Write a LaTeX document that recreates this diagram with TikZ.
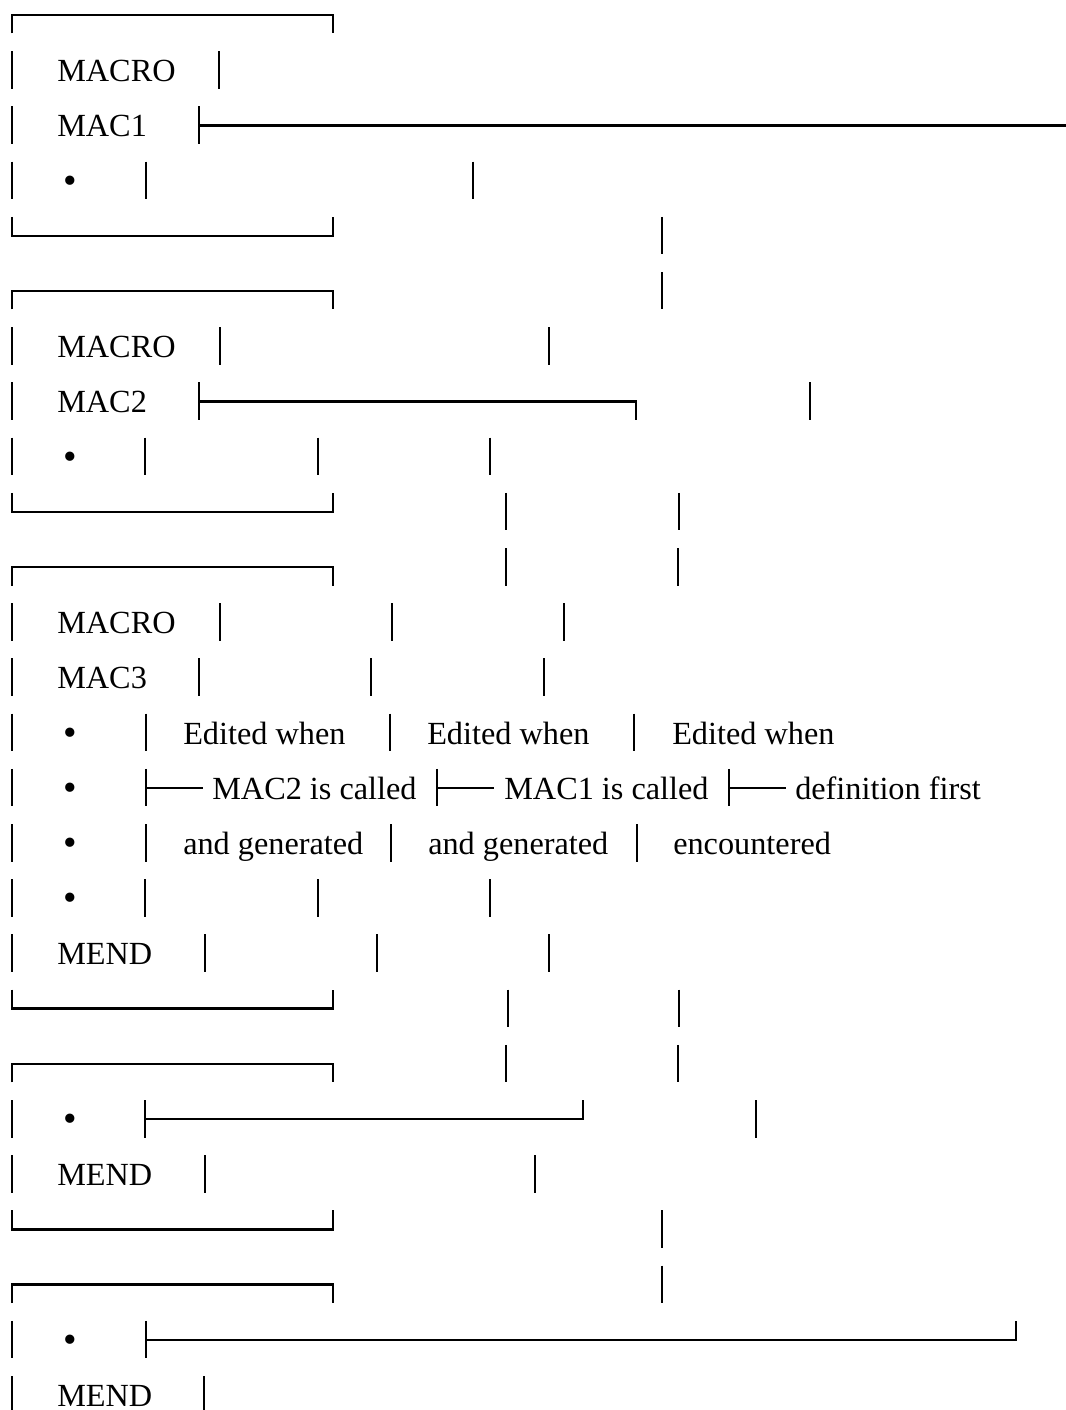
\documentclass[tikz,border=0pt]{standalone}
\usepackage{fontspec}
\setmainfont{Liberation Serif}

% one x unit = one pixel column, one y unit = one text row (downwards)
\newcommand\mkbar[2]{\draw[vstroke] (#1,#2-0.344) -- (#1,#2+0.335);}
\newcommand\mktop[1]{\draw[hstroke] (12,#1+0.335) -- (12,#1) -- (333,#1) -- (333,#1+0.335);}
\newcommand\mkbottom[1]{\draw[hstroke] (12,#1-0.344) -- (12,#1) -- (333,#1) -- (333,#1-0.344);}
\newcommand\mktee[3]{\mkbar{#1}{#3}\draw[hstroke] (#1,#3) -- (#2,#3);}
\newcommand\mkteedown[3]{\mkbar{#1}{#3}\draw[hstroke] (#1,#3) -- (#2,#3) -- (#2,#3+0.335);}
\newcommand\mkteeup[3]{\mkbar{#1}{#3}\draw[hstroke] (#1,#3) -- (#2,#3) -- (#2,#3-0.344);}
\newcommand\mktext[4]{\node[lbl] (#1) at (#2,#3+0.208) {#4};}
\newcommand\mkdot[2]{\node[bul] (#1) at (70,#2+0.228) {•};}

\begin{document}
\begin{tikzpicture}[x=0.75pt,y=-41.4pt,
  vstroke/.style={line width=2.1pt,line cap=butt},
  hstroke/.style={line width=1.9pt,line cap=butt,line join=miter},
  lbl/.style={anchor=base west,inner sep=0pt,font=\fontsize{24.2}{29}\selectfont},
  bul/.style={anchor=base,inner sep=0pt,font=\fontsize{29}{34}\selectfont}]
\useasboundingbox (0pt,0pt) rectangle (799.5pt,-1057.5pt);
\fill[white] (0pt,0pt) rectangle (799.5pt,-1057.5pt);

\begin{scope}[yshift=-11.25pt]
% ---- MACRO MAC1
\mktop{0}
\mkbar{12}{1} \mktext{ma1}{57}{1}{MACRO} \mkbar{219}{1}
\mkbar{12}{2} \mktext{mc1}{57}{2}{MAC1} \mktee{199}{1066}{2}
\mkbar{12}{3} \mkdot{d3}{3} \mkbar{146}{3} \mkbar{473}{3}
\mkbottom{4} \mkbar{662}{4}

% ---- MACRO MAC2
\mktop{5} \mkbar{662}{5}
\mkbar{12}{6} \mktext{ma2}{57}{6}{MACRO} \mkbar{220}{6} \mkbar{549}{6}
\mkbar{12}{7} \mktext{mc2}{57}{7}{MAC2} \mkteedown{199}{636}{7} \mkbar{810}{7}
\mkbar{12}{8} \mkdot{d8}{8} \mkbar{145}{8} \mkbar{318}{8} \mkbar{490}{8}
\mkbottom{9} \mkbar{506}{9} \mkbar{679}{9}

% ---- MACRO MAC3
\mktop{10} \mkbar{506}{10} \mkbar{678}{10}
\mkbar{12}{11} \mktext{ma3}{57}{11}{MACRO} \mkbar{220}{11} \mkbar{392}{11} \mkbar{564}{11}
\mkbar{12}{12} \mktext{mc3}{57}{12}{MAC3} \mkbar{199}{12} \mkbar{371}{12} \mkbar{544}{12}

\mkbar{12}{13} \mkdot{d13}{13} \mkbar{146}{13}
\mktext{e1}{183}{13}{Edited when} \mkbar{390}{13}
\mktext{e2}{427}{13}{Edited when} \mkbar{634}{13}
\mktext{e3}{672}{13}{Edited when}

\mkbar{12}{14} \mkdot{d14}{14}
\mktee{146}{203}{14} \mktext{c1}{212}{14}{MAC2 is called}
\mktee{437}{494}{14} \mktext{c2}{504}{14}{MAC1 is called}
\mktee{729}{786}{14} \mktext{c3}{795}{14}{definition first}

\mkbar{12}{15} \mkdot{d15}{15} \mkbar{146}{15}
\mktext{g1}{183}{15}{and generated} \mkbar{391}{15}
\mktext{g2}{428}{15}{and generated} \mkbar{637}{15}
\mktext{g3}{673}{15}{encountered}

\mkbar{12}{16} \mkdot{d16}{16} \mkbar{145}{16} \mkbar{318}{16} \mkbar{490}{16}
\mkbar{12}{17} \mktext{me3}{57}{17}{MEND} \mkbar{205}{17} \mkbar{377}{17} \mkbar{549}{17}
\mkbottom{18} \mkbar{508}{18} \mkbar{679}{18}

% ---- end of MAC2
\mktop{19} \mkbar{506}{19} \mkbar{678}{19}
\mkbar{12}{20} \mkdot{d20}{20} \mkteeup{145}{583}{20} \mkbar{756}{20}
\mkbar{12}{21} \mktext{me2}{57}{21}{MEND} \mkbar{205}{21} \mkbar{535}{21}
\mkbottom{22} \mkbar{662}{22}

% ---- end of MAC1
\mktop{23} \mkbar{662}{23}
\mkbar{12}{24} \mkdot{d24}{24} \mkteeup{146}{1016}{24}
\mkbar{12}{25} \mktext{me1}{57}{25}{MEND} \mkbar{204}{25}
\end{scope}
\end{tikzpicture}
\end{document}
